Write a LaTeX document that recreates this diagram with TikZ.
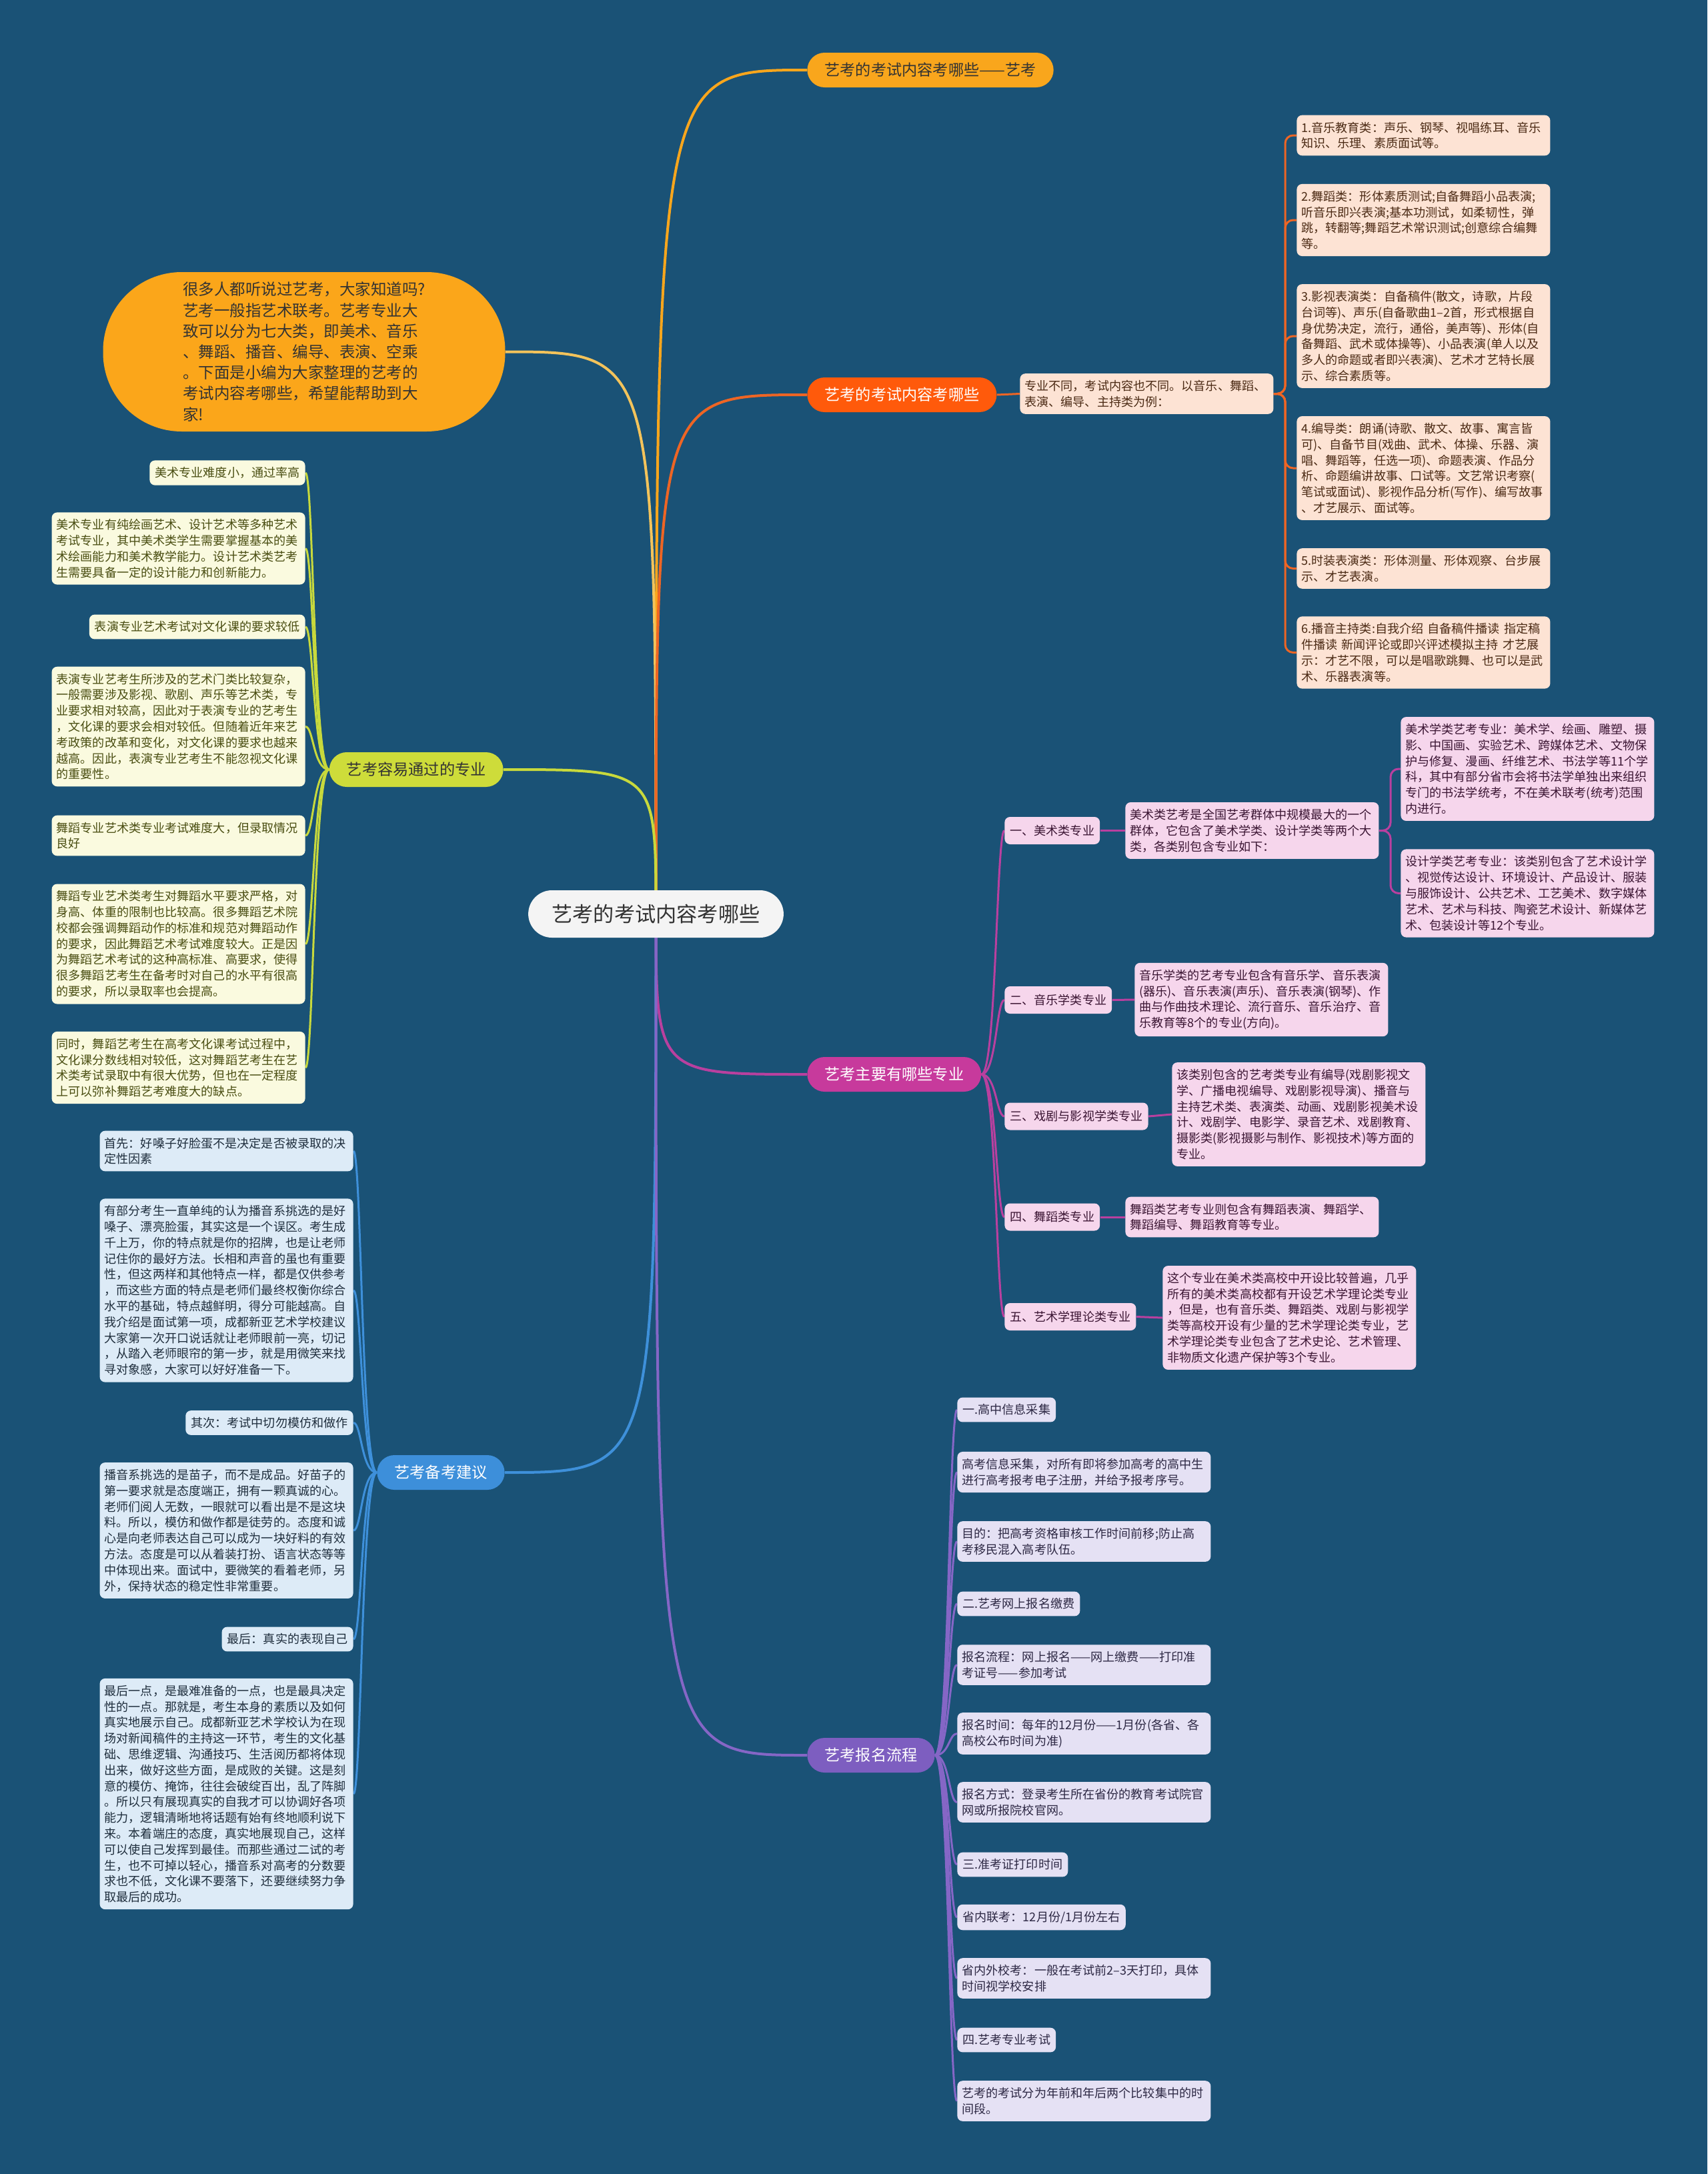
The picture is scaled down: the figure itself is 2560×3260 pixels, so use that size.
\documentclass[tikz,border=0pt]{standalone}
\usepackage{fontspec}
\setmainfont{Noto Sans CJK SC}
\pgfdeclarelayer{background}
\pgfsetlayers{background,main}
\definecolor{bgc}{HTML}{1A5276}
\definecolor{cenf}{HTML}{F4F4F4}
\definecolor{dk}{HTML}{333333}
\definecolor{c1f}{HTML}{F9A61C}
\definecolor{inf}{HTML}{FBA61A}
\definecolor{ine}{HTML}{F3C35B}
\definecolor{c2f}{HTML}{FF5A0B}
\definecolor{c2e}{HTML}{EE6524}
\definecolor{l2f}{HTML}{FDE3D4}
\definecolor{l2t}{HTML}{4B2A14}
\definecolor{c3f}{HTML}{CEDC3A}
\definecolor{c3e}{HTML}{C8D93C}
\definecolor{l3f}{HTML}{FAFADF}
\definecolor{l3t}{HTML}{4A4E12}
\definecolor{c4f}{HTML}{3D8FDA}
\definecolor{c4e}{HTML}{3E90DA}
\definecolor{l4f}{HTML}{DDEBF7}
\definecolor{l4t}{HTML}{1F2E3D}
\definecolor{c5f}{HTML}{C73A9C}
\definecolor{c5e}{HTML}{B9409F}
\definecolor{l5f}{HTML}{F6D6EC}
\definecolor{l5t}{HTML}{3B1533}
\definecolor{c6f}{HTML}{7D5EC0}
\definecolor{c6e}{HTML}{8566C6}
\definecolor{l6f}{HTML}{E5E1F4}
\definecolor{l6t}{HTML}{2D2844}
\newcommand\leaffont{\fontsize{9.05pt}{11.9pt}\selectfont}
\newcommand\brfont{\fontsize{11.6pt}{14pt}\selectfont}
\newcommand\cenfont{\fontsize{15.6pt}{18pt}\selectfont}
\newcommand\introfont{\fontsize{11.75pt}{15.6pt}\selectfont}
\begin{document}
\begin{tikzpicture}[x=0.5pt,y=-0.5pt,
  leaf/.style={rounded corners=4pt, inner xsep=4pt, inner ysep=5pt, font=\leaffont, align=left},
  wide/.style={leaf, text width=183pt, inner xsep=3.5pt},
  br/.style={rounded corners=13pt, minimum height=26pt, inner xsep=13pt, inner ysep=0pt, font=\brfont},
  cen/.style={fill=cenf, text=dk, rounded corners=17.75pt, minimum height=35.5pt, inner xsep=17.7pt, inner ysep=0pt, font=\cenfont},
  intro/.style={fill=inf, text=dk, rounded corners=59pt, minimum width=301.5pt, minimum height=119.5pt, inner sep=0pt, font=\introfont, align=left},
  s2/.style={leaf, fill=l2f, text=l2t},
  s3/.style={leaf, fill=l3f, text=l3t},
  s4/.style={leaf, fill=l4f, text=l4t},
  s5/.style={leaf, fill=l5f, text=l5t},
  s6/.style={leaf, fill=l6f, text=l6t},
  w2/.style={wide, fill=l2f, text=l2t},
  w3/.style={wide, fill=l3f, text=l3t},
  w4/.style={wide, fill=l4f, text=l4t},
  w5/.style={wide, fill=l5f, text=l5t},
  w6/.style={wide, fill=l6f, text=l6t},
  mainedge/.style={line width=2pt},
  subedge/.style={line width=1.5pt}]
\useasboundingbox (0,0) rectangle (2560,3260);

% centre
\node[cen] (C) at (983.5,1370.5) {艺考的考试内容考哪些};

% branch 1
\node[br, anchor=west, fill=c1f, text=dk] (B1) at (1210,105) {艺考的考试内容考哪些——艺考};

% intro
\node[intro] (IN) at (456,527.5) {很多人都听说过艺考，大家知道吗?\\艺考一般指艺术联考。艺考专业大\\致可以分为七大类，即美术、音乐\\、舞蹈、播音、编导、表演、空乘\\。下面是小编为大家整理的艺考的\\考试内容考哪些，希望能帮助到大\\家!};

% branch 2
\node[br, anchor=west, fill=c2f, text=white] (B2) at (1210,592) {艺考的考试内容考哪些};
\node[w2, anchor=west] (K2) at (1529,590.5) {专业不同，考试内容也不同。以音乐、舞蹈、\\表演、编导、主持类为例：};
\node[w2, anchor=west] (L2a) at (1944,203) {1.音乐教育类：声乐、钢琴、视唱练耳、音乐\\知识、乐理、素质面试等。};
\node[w2, anchor=west] (L2b) at (1944,330) {2.舞蹈类：形体素质测试;自备舞蹈小品表演;\\听音乐即兴表演;基本功测试，如柔韧性，弹\\跳，转翻等;舞蹈艺术常识测试;创意综合编舞\\等。};
\node[w2, anchor=west] (L2c) at (1944,504) {3.影视表演类：自备稿件(散文，诗歌，片段\\台词等)、声乐(自备歌曲1–2首，形式根据自\\身优势决定，流行，通俗，美声等)、形体(自\\备舞蹈、武术或体操等)、小品表演(单人以及\\多人的命题或者即兴表演)、艺术才艺特长展\\示、综合素质等。};
\node[w2, anchor=west] (L2d) at (1944,702) {4.编导类：朗诵(诗歌、散文、故事、寓言皆\\可)、自备节目(戏曲、武术、体操、乐器、演\\唱、舞蹈等，任选一项)、命题表演、作品分\\析、命题编讲故事、口试等。文艺常识考察(\\笔试或面试)、影视作品分析(写作)、编写故事\\、才艺展示、面试等。};
\node[w2, anchor=west] (L2e) at (1944,852.5) {5.时装表演类：形体测量、形体观察、台步展\\示、才艺表演。};
\node[w2, anchor=west] (L2f) at (1944,978.5) {6.播音主持类:自我介绍 自备稿件播读 指定稿\\件播读 新闻评论或即兴评述模拟主持 才艺展\\示：才艺不限，可以是唱歌跳舞、也可以是武\\术、乐器表演等。};

% branch 3
\node[br, anchor=east, fill=c3f, text=dk] (B3) at (755,1154) {艺考容易通过的专业};
\node[s3, anchor=east] (L3a) at (458,709) {美术专业难度小，通过率高};
\node[w3, anchor=east] (L3b) at (458,822.5) {美术专业有纯绘画艺术、设计艺术等多种艺术\\考试专业，其中美术类学生需要掌握基本的美\\术绘画能力和美术教学能力。设计艺术类艺考\\生需要具备一定的设计能力和创新能力。};
\node[s3, anchor=east] (L3c) at (458,940) {表演专业艺术考试对文化课的要求较低};
\node[w3, anchor=east] (L3d) at (458,1089.5) {表演专业艺考生所涉及的艺术门类比较复杂，\\一般需要涉及影视、歌剧、声乐等艺术类，专\\业要求相对较高，因此对于表演专业的艺考生\\，文化课的要求会相对较低。但随着近年来艺\\考政策的改革和变化，对文化课的要求也越来\\越高。因此，表演专业艺考生不能忽视文化课\\的重要性。};
\node[w3, anchor=east] (L3e) at (458,1253) {舞蹈专业艺术类专业考试难度大，但录取情况\\良好};
\node[w3, anchor=east] (L3f) at (458,1415.5) {舞蹈专业艺术类考生对舞蹈水平要求严格，对\\身高、体重的限制也比较高。很多舞蹈艺术院\\校都会强调舞蹈动作的标准和规范对舞蹈动作\\的要求，因此舞蹈艺术考试难度较大。正是因\\为舞蹈艺术考试的这种高标准、高要求，使得\\很多舞蹈艺考生在备考时对自己的水平有很高\\的要求，所以录取率也会提高。};
\node[w3, anchor=east] (L3g) at (458,1601) {同时，舞蹈艺考生在高考文化课考试过程中，\\文化课分数线相对较低，这对舞蹈艺考生在艺\\术类考试录取中有很大优势，但也在一定程度\\上可以弥补舞蹈艺考难度大的缺点。};

% branch 4
\node[br, anchor=east, fill=c4f, text=white] (B4) at (757,2208) {艺考备考建议};
\node[w4, anchor=east] (L4a) at (530,1726) {首先：好嗓子好脸蛋不是决定是否被录取的决\\定性因素};
\node[w4, anchor=east] (L4b) at (530,1935) {有部分考生一直单纯的认为播音系挑选的是好\\嗓子、漂亮脸蛋，其实这是一个误区。考生成\\千上万，你的特点就是你的招牌，也是让老师\\记住你的最好方法。长相和声音的虽也有重要\\性，但这两样和其他特点一样，都是仅供参考\\，而这些方面的特点是老师们最终权衡你综合\\水平的基础，特点越鲜明，得分可能越高。自\\我介绍是面试第一项，成都新亚艺术学校建议\\大家第一次开口说话就让老师眼前一亮，切记\\，从踏入老师眼帘的第一步，就是用微笑来找\\寻对象感，大家可以好好准备一下。};
\node[s4, anchor=east] (L4c) at (530,2133.5) {其次：考试中切勿模仿和做作};
\node[w4, anchor=east] (L4d) at (530,2295) {播音系挑选的是苗子，而不是成品。好苗子的\\第一要求就是态度端正，拥有一颗真诚的心。\\老师们阅人无数，一眼就可以看出是不是这块\\料。所以，模仿和做作都是徒劳的。态度和诚\\心是向老师表达自己可以成为一块好料的有效\\方法。态度是可以从着装打扮、语言状态等等\\中体现出来。面试中，要微笑的看着老师，另\\外，保持状态的稳定性非常重要。};
\node[s4, anchor=east] (L4e) at (530,2458) {最后：真实的表现自己};
\node[w4, anchor=east] (L4f) at (530,2690) {最后一点，是最难准备的一点，也是最具决定\\性的一点。那就是，考生本身的素质以及如何\\真实地展示自己。成都新亚艺术学校认为在现\\场对新闻稿件的主持这一环节，考生的文化基\\础、思维逻辑、沟通技巧、生活阅历都将体现\\出来，做好这些方面，是成败的关键。这是刻\\意的模仿、掩饰，往往会破绽百出，乱了阵脚\\。所以只有展现真实的自我才可以协调好各项\\能力，逻辑清晰地将话题有始有终地顺利说下\\来。本着端庄的态度，真实地展现自己，这样\\可以使自己发挥到最佳。而那些通过二试的考\\生，也不可掉以轻心，播音系对高考的分数要\\求也不低，文化课不要落下，还要继续努力争\\取最后的成功。};

% branch 5
\node[br, anchor=west, fill=c5f, text=white] (B5) at (1210,1611) {艺考主要有哪些专业};
\node[s5, anchor=west, minimum height=20.5pt] (M5a) at (1506,1245.5) {一、美术类专业};
\node[s5, anchor=west, minimum height=20.5pt] (M5b) at (1506,1499.5) {二、音乐学类专业};
\node[s5, anchor=west, minimum height=20.5pt] (M5c) at (1506,1674) {三、戏剧与影视学类专业};
\node[s5, anchor=west, minimum height=20.5pt] (M5d) at (1506,1825) {四、舞蹈类专业};
\node[s5, anchor=west, minimum height=20.5pt] (M5e) at (1506,1974.5) {五、艺术学理论类专业};
\node[w5, anchor=west] (K5a) at (1687,1245.5) {美术类艺考是全国艺考群体中规模最大的一个\\群体，它包含了美术学类、设计学类等两个大\\类，各类别包含专业如下：};
\node[w5, anchor=west] (G5a) at (2100,1153) {美术学类艺考专业：美术学、绘画、雕塑、摄\\影、中国画、实验艺术、跨媒体艺术、文物保\\护与修复、漫画、纤维艺术、书法学等11个学\\科，其中有部分省市会将书法学单独出来组织\\专门的书法学统考，不在美术联考(统考)范围\\内进行。};
\node[w5, anchor=west] (G5b) at (2100,1339.5) {设计学类艺考专业：该类别包含了艺术设计学\\、视觉传达设计、环境设计、产品设计、服装\\与服饰设计、公共艺术、工艺美术、数字媒体\\艺术、艺术与科技、陶瓷艺术设计、新媒体艺\\术、包装设计等12个专业。};
\node[w5, anchor=west] (K5b) at (1701,1499) {音乐学类的艺考专业包含有音乐学、音乐表演\\(器乐)、音乐表演(声乐)、音乐表演(钢琴)、作\\曲与作曲技术理论、流行音乐、音乐治疗、音\\乐教育等8个的专业(方向)。};
\node[w5, anchor=west] (K5c) at (1757,1671) {该类别包含的艺考类专业有编导(戏剧影视文\\学、广播电视编导、戏剧影视导演)、播音与\\主持艺术类、表演类、动画、戏剧影视美术设\\计、戏剧学、电影学、录音艺术、戏剧教育、\\摄影类(影视摄影与制作、影视技术)等方面的\\专业。};
\node[w5, anchor=west] (K5d) at (1687,1825) {舞蹈类艺考专业则包含有舞蹈表演、舞蹈学、\\舞蹈编导、舞蹈教育等专业。};
\node[w5, anchor=west] (K5e) at (1743,1976) {这个专业在美术类高校中开设比较普遍，几乎\\所有的美术类高校都有开设艺术学理论类专业\\，但是，也有音乐类、舞蹈类、戏剧与影视学\\类等高校开设有少量的艺术学理论类专业，艺\\术学理论类专业包含了艺术史论、艺术管理、\\非物质文化遗产保护等3个专业。};

% branch 6
\node[br, anchor=west, fill=c6f, text=white] (B6) at (1210,2632) {艺考报名流程};
\node[s6, anchor=west] (L6a) at (1435,2114) {一.高中信息采集};
\node[w6, anchor=west] (L6b) at (1435,2207.5) {高考信息采集，对所有即将参加高考的高中生\\进行高考报考电子注册，并给予报考序号。};
\node[w6, anchor=west] (L6c) at (1435,2311.5) {目的：把高考资格审核工作时间前移;防止高\\考移民混入高考队伍。};
\node[s6, anchor=west] (L6d) at (1435,2405) {二.艺考网上报名缴费};
\node[w6, anchor=west] (L6e) at (1435,2496.5) {报名流程：网上报名——网上缴费——打印准\\考证号——参加考试};
\node[w6, anchor=west] (L6f) at (1435,2599.5) {报名时间：每年的12月份——1月份(各省、各\\高校公布时间为准)};
\node[w6, anchor=west] (L6g) at (1435,2702.5) {报名方式：登录考生所在省份的教育考试院官\\网或所报院校官网。};
\node[s6, anchor=west] (L6h) at (1435,2796) {三.准考证打印时间};
\node[s6, anchor=west] (L6i) at (1435,2875) {省内联考：12月份/1月份左右};
\node[w6, anchor=west] (L6j) at (1435,2966.5) {省内外校考：一般在考试前2–3天打印，具体\\时间视学校安排};
\node[s6, anchor=west] (L6k) at (1435,3059) {四.艺考专业考试};
\node[w6, anchor=west] (L6l) at (1435,3150.5) {艺考的考试分为年前和年后两个比较集中的时\\间段。};

% spines
\coordinate (S2) at (1927,0);
\coordinate (S3) at (470,0);
\coordinate (S4) at (542,0);
\coordinate (S5) at (1494,0);
\coordinate (S5a) at (2085,0);
\coordinate (S6) at (1423,0);

\begin{pgfonlayer}{background}
\fill[bgc] (0,0) rectangle (2560,3260);
% main curves
\draw[mainedge, c1f] (C.center) .. controls (C.center |- B1.west) .. (B1.west);
\draw[mainedge, ine] (C.center) .. controls (C.center |- IN.east) .. (IN.east);
\draw[mainedge, c2e] (C.center) .. controls (C.center |- B2.west) .. (B2.west);
\draw[mainedge, c3e] (C.center) .. controls (C.center |- B3.east) .. (B3.east);
\draw[mainedge, c4e] (C.center) .. controls (C.center |- B4.east) .. (B4.east);
\draw[mainedge, c5e] (C.center) .. controls (C.center |- B5.west) .. (B5.west);
\draw[mainedge, c6e] (C.center) .. controls (C.center |- B6.west) .. (B6.west);
% branch 2
\draw[subedge, c2e] (B2.east) -- (K2.west);
\foreach \n in {L2a,L2b,L2c,L2d,L2e,L2f}
  \draw[subedge, c2e, rounded corners=6pt] (K2.east) -- (S2 |- K2.east) |- (\n.west);
% branch 3
\foreach \n in {L3a,L3b,L3c,L3d,L3e,L3f,L3g}
  \draw[subedge, c3e] (B3.west) .. controls (S3 |- B3.west) and (S3 |- \n.east) .. (\n.east);
% branch 4
\foreach \n in {L4a,L4b,L4c,L4d,L4e,L4f}
  \draw[subedge, c4e] (B4.west) .. controls (S4 |- B4.west) and (S4 |- \n.east) .. (\n.east);
% branch 5
\foreach \n in {M5a,M5b,M5c,M5d,M5e}
  \draw[subedge, c5e] (B5.east) .. controls (S5 |- B5.east) and (S5 |- \n.west) .. (\n.west);
\draw[subedge, c5e] (M5a.east) -- (K5a.west);
\draw[subedge, c5e] (M5b.east) -- (K5b.west);
\draw[subedge, c5e] (M5c.east) -- (K5c.west);
\draw[subedge, c5e] (M5d.east) -- (K5d.west);
\draw[subedge, c5e] (M5e.east) -- (K5e.west);
\foreach \n in {G5a,G5b}
  \draw[subedge, c5e, rounded corners=6pt] (K5a.east) -- (S5a |- K5a.east) |- (\n.west);
% branch 6
\foreach \n in {L6a,L6b,L6c,L6d,L6e,L6f,L6g,L6h,L6i,L6j,L6k,L6l}
  \draw[subedge, c6e] (B6.east) .. controls (S6 |- B6.east) and (S6 |- \n.west) .. (\n.west);
\end{pgfonlayer}
\end{tikzpicture}
\end{document}
